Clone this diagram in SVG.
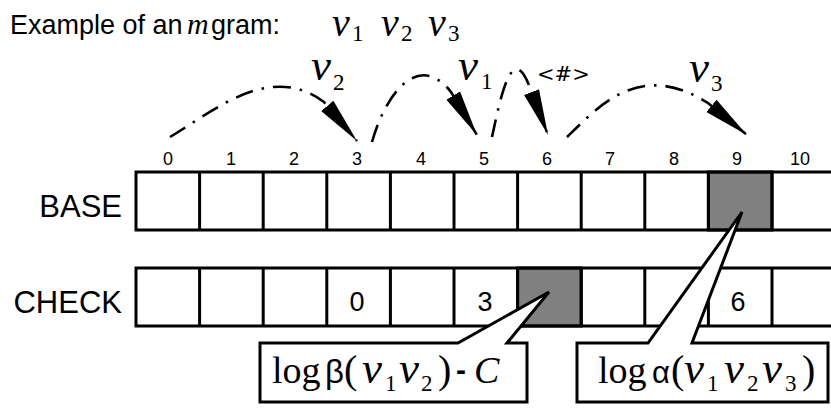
<svg xmlns="http://www.w3.org/2000/svg" width="831" height="408" viewBox="0 0 831 408">
<style>
.sans{font-family:"Liberation Sans",Arial,sans-serif;fill:#000}
.serif{font-family:"Liberation Serif","Times New Roman",serif;fill:#000}
.vv{font-family:"Liberation Serif","Times New Roman",serif;font-style:italic;font-size:45px;fill:#000}
.vt{font-family:"Liberation Serif","Times New Roman",serif;font-style:italic;font-size:40px;fill:#000}
.sub{font-family:"Liberation Serif","Times New Roman",serif;font-size:23px;fill:#000}
.grid{stroke:#000;stroke-width:3;fill:none}
.gray{fill:#808080;stroke:#000;stroke-width:3}
.arc{fill:none;stroke:#000;stroke-width:2.6;stroke-dasharray:18 9 2.5 9;marker-end:url(#ah)}
.callout{fill:#fff;stroke:#000;stroke-width:3;stroke-linejoin:miter}
.idx{font-family:"Liberation Sans",Arial,sans-serif;font-size:18px;text-anchor:middle}
.val{font-family:"Liberation Sans",Arial,sans-serif;font-size:27px;text-anchor:middle}
</style>
<defs>
<marker id="ah" markerUnits="userSpaceOnUse" markerWidth="48" markerHeight="18" refX="46" refY="9" orient="auto">
<path d="M0,1 L46,9 L0,17 Z" fill="#000"/>
</marker>
</defs>

<g id="title">
<text class="sans" x="10" y="34" font-size="27">Example of an</text>
<text class="serif" x="187" y="34" font-size="30" font-style="italic">m</text>
<text class="sans" x="211" y="34" font-size="27">gram:</text>
<text class="vt" x="332" y="36">v</text><text class="sub" x="352" y="41">1</text>
<text class="vt" x="381" y="36">v</text><text class="sub" x="401" y="41">2</text>
<text class="vt" x="428" y="36">v</text><text class="sub" x="448" y="41">3</text>
</g>

<g id="indices">
<text class="idx" x="168" y="165">0</text>
<text class="idx" x="231" y="165">1</text>
<text class="idx" x="294" y="165">2</text>
<text class="idx" x="357" y="165">3</text>
<text class="idx" x="421" y="165">4</text>
<text class="idx" x="484" y="165">5</text>
<text class="idx" x="547" y="165">6</text>
<text class="idx" x="610" y="165">7</text>
<text class="idx" x="674" y="165">8</text>
<text class="idx" x="737" y="165">9</text>
<text class="idx" x="800" y="165">10</text>
</g>

<g id="base-row">
<text class="sans" x="122" y="217" font-size="31" text-anchor="end">BASE</text>
<rect class="gray" x="708.4" y="172" width="63.6" height="58"/>
<path class="grid" d="M831,172 H136 V230 H831 M199.6,172 V230 M263.2,172 V230 M326.8,172 V230 M390.4,172 V230 M454,172 V230 M517.6,172 V230 M581.2,172 V230 M644.8,172 V230 M708.4,172 V230 M772,172 V230"/>
</g>

<g id="check-row">
<text class="sans" x="122" y="313" font-size="31" text-anchor="end">CHECK</text>
<rect class="gray" x="517.6" y="268" width="63.6" height="58"/>
<path class="grid" d="M831,268 H136 V326 H831 M199.6,268 V326 M263.2,268 V326 M326.8,268 V326 M390.4,268 V326 M454,268 V326 M517.6,268 V326 M581.2,268 V326 M644.8,268 V326 M708.4,268 V326 M772,268 V326"/>
<text class="val" x="357" y="311">0</text>
<text class="val" x="485" y="311">3</text>
<text class="val" x="738" y="311">6</text>
</g>

<g id="callout-beta">
<path class="callout" d="M260,343 H458 L549,292 L507,343 H527 V402 H260 Z"/>
<text class="serif" x="272" y="383" font-size="38">log</text>
<text class="sans" x="325" y="383" font-size="33">β</text>
<text class="serif" x="344" y="383" font-size="40">(</text>
<text class="vv" x="362" y="383">v</text><text class="sub" x="385" y="391">1</text>
<text class="vv" x="399" y="383">v</text><text class="sub" x="421" y="391">2</text>
<text class="serif" x="438" y="383" font-size="40">)</text>
<text class="sans" x="456" y="380" font-size="30" font-weight="bold">-</text>
<text class="serif" x="474" y="383" font-size="38" font-style="italic">C</text>
</g>

<g id="callout-alpha">
<path class="callout" d="M577,343 H648 L742,212 L692,343 H828 V402 H577 Z"/>
<text class="serif" x="598" y="383" font-size="38">log</text>
<text class="sans" x="652" y="383" font-size="31">α</text>
<text class="serif" x="671" y="383" font-size="40">(</text>
<text class="vv" x="684" y="383">v</text><text class="sub" x="707" y="391">1</text>
<text class="vv" x="724" y="383">v</text><text class="sub" x="747" y="391">2</text>
<text class="vv" x="762" y="383">v</text><text class="sub" x="785" y="391">3</text>
<text class="serif" x="802" y="383" font-size="40">)</text>
</g>

<g id="connectors">
<path class="arc" d="M170,137 C215,110 270,62 324,102 L357,141"/>
<path class="arc" d="M372,142 C385,95 418,50 451,92 L477,135"/>
<path class="arc" d="M492,137 C500,100 512,38 530,88 L548,135"/>
<path class="arc" d="M567,137 C600,105 640,60 708,103 L747,135"/>
</g>

<g id="arc-labels">
<text class="vv" x="311" y="80">v</text><text class="sub" x="333" y="90">2</text>
<text class="vv" x="458" y="80">v</text><text class="sub" x="481" y="89">1</text>
<text class="serif" x="537" y="81" font-size="21" style="font-family:'DejaVu Serif',serif">&lt;#&gt;</text>
<text class="vv" x="689" y="82">v</text><text class="sub" x="711" y="91">3</text>
</g>
</svg>
